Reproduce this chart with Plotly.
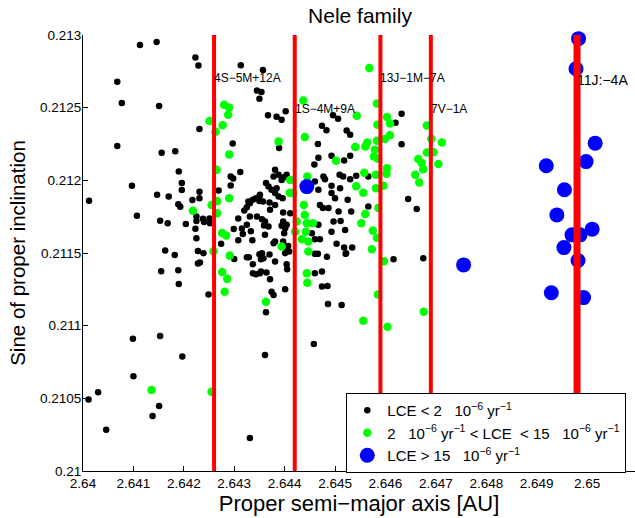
import plotly.graph_objects as go

# --- LCE < 2e-6 /yr members: proper a [AU], sin(i) ---
low_a = [
    2.64012, 2.64011, 2.64030, 2.64046, 2.64068, 2.64077, 2.64068, 2.64097, 2.64113, 2.64146,
    2.64151, 2.64156, 2.64183, 2.64190, 2.64196, 2.64196, 2.64147, 2.64170, 2.64189, 2.64193,
    2.64217, 2.64231, 2.64231, 2.64223, 2.64229, 2.64231, 2.64107, 2.64153, 2.64168, 2.64204,
    2.64225, 2.64225, 2.64238, 2.64240, 2.64252, 2.64251, 2.64223, 2.64225, 2.64274, 2.64299,
    2.64308, 2.64308, 2.64317, 2.64315, 2.64325, 2.64333, 2.64336, 2.64331, 2.64345, 2.64320,
    2.64325, 2.64331, 2.64337, 2.64328, 2.64350, 2.64350, 2.64163, 2.64182, 2.64228, 2.64239,
    2.64228, 2.64232, 2.64155, 2.64189, 2.64190, 2.64249, 2.64300, 2.64325, 2.64329, 2.64337,
    2.64337, 2.64343, 2.64350, 2.64269, 2.64297, 2.64293, 2.64298, 2.64293, 2.64312, 2.64313,
    2.64357, 2.64345, 2.64354, 2.64350, 2.64367, 2.64384, 2.64394, 2.64402, 2.64389, 2.64474,
    2.64483, 2.64496, 2.64506, 2.64466, 2.64523, 2.64530, 2.64467, 2.64493, 2.64503, 2.64518,
    2.64530, 2.64459, 2.64381, 2.64378, 2.64388, 2.64394, 2.64399, 2.64404, 2.64363, 2.64368,
    2.64374, 2.64384, 2.64381, 2.64351, 2.64343, 2.64357, 2.64370, 2.64388, 2.64396, 2.64381,
    2.64371, 2.64397, 2.64411, 2.64355, 2.64361, 2.64368, 2.64397, 2.64394, 2.64401, 2.64404,
    2.64361, 2.64378, 2.64397, 2.64407, 2.64409, 2.64401, 2.64351, 2.64364, 2.64371, 2.64358,
    2.64374, 2.64378, 2.64401, 2.64460, 2.64467, 2.64470, 2.64476, 2.64487, 2.64480, 2.64477,
    2.64493, 2.64500, 2.64493, 2.64510, 2.64516, 2.64509, 2.64530, 2.64542, 2.64525, 2.64507,
    2.64532, 2.64497, 2.64493, 2.64520, 2.64467, 2.64454, 2.64460, 2.64470, 2.64503, 2.64522,
    2.64460, 2.64466, 2.64484, 2.64566, 2.64645, 2.64662, 2.64616, 2.64675, 2.64460, 2.64474,
    2.64474, 2.64486, 2.64513, 2.64566, 2.64632, 2.64620, 2.64632, 2.64363, 2.64361, 2.64458,
    2.64485, 2.64518, 2.64534, 2.64521, 2.64353, 2.64353, 2.64355, 2.64370, 2.64381, 2.64403,
    2.64404, 2.64405, 2.64359, 2.64381, 2.64399, 2.64511, 2.64099, 2.64153, 2.64197, 2.64100,
    2.64331, 2.64138, 2.64151,
]
low_sini = [
    0.211859, 0.210492, 0.210541, 0.210284, 0.212678, 0.212532, 0.212236, 0.211962, 0.212931, 0.212952,
    0.212511, 0.212189, 0.212200, 0.212061, 0.211981, 0.211933, 0.211900, 0.211888, 0.211835, 0.211818,
    0.211864, 0.211921, 0.211877, 0.212846, 0.212790, 0.212353, 0.211756, 0.211722, 0.211704, 0.211699,
    0.211752, 0.211721, 0.211735, 0.211714, 0.211705, 0.211738, 0.211666, 0.211602, 0.211563, 0.211665,
    0.211737, 0.211588, 0.211630, 0.211668, 0.211694, 0.211650, 0.211588, 0.211751, 0.211751, 0.211792,
    0.211815, 0.211843, 0.211866, 0.211854, 0.211888, 0.211857, 0.211517, 0.211487, 0.211513, 0.211499,
    0.211428, 0.211434, 0.211375, 0.211382, 0.211286, 0.211214, 0.211458, 0.211470, 0.211471, 0.211423,
    0.211361, 0.211354, 0.211492, 0.211930, 0.212253, 0.212026, 0.212012, 0.211964, 0.212057, 0.212791,
    0.212759, 0.212618, 0.212607, 0.212561, 0.212448, 0.212437, 0.212417, 0.212475, 0.212222, 0.212375,
    0.212344, 0.212448, 0.212424, 0.212250, 0.212343, 0.212313, 0.212155, 0.212169, 0.212134, 0.212136,
    0.212169, 0.212109, 0.212072, 0.212026, 0.212038, 0.212003, 0.212022, 0.212038, 0.211981, 0.211957,
    0.211935, 0.211946, 0.211912, 0.211900, 0.211877, 0.211854, 0.211847, 0.211888, 0.211877, 0.211831,
    0.211797, 0.211778, 0.211774, 0.211733, 0.211716, 0.211682, 0.211716, 0.211687, 0.211671, 0.211694,
    0.211625, 0.211567, 0.211579, 0.211549, 0.211510, 0.211499, 0.211361, 0.211365, 0.211320, 0.211464,
    0.211234, 0.211211, 0.211251, 0.211992, 0.211935, 0.211831, 0.211809, 0.211809, 0.212008, 0.212026,
    0.211962, 0.211877, 0.211912, 0.211946, 0.212026, 0.212038, 0.212008, 0.212031, 0.211866, 0.211785,
    0.211785, 0.211716, 0.211647, 0.211659, 0.211694, 0.211636, 0.211595, 0.211595, 0.211563, 0.211499,
    0.211494, 0.211494, 0.211475, 0.211820, 0.211871, 0.211802, 0.211457, 0.211464, 0.211361, 0.211372,
    0.211269, 0.211149, 0.211143, 0.212026, 0.212458, 0.212396, 0.212249, 0.211092, 0.210798, 0.210874,
    0.211273, 0.211537, 0.211537, 0.211494, 0.211372, 0.211457, 0.211499, 0.211489, 0.211441, 0.211540,
    0.211423, 0.211388, 0.211689, 0.211579, 0.211636, 0.211721, 0.210910, 0.210929, 0.210787, 0.210652,
    0.210227, 0.210378, 0.210447,
]

# --- 2 < LCE < 15 members ---
mid_a = [
    2.64251, 2.64263, 2.64280, 2.64290, 2.64288, 2.64277, 2.64290, 2.64265, 2.64290, 2.64255,
    2.64218, 2.64266, 2.64266, 2.64276, 2.64284, 2.64259, 2.64291, 2.64276, 2.64286, 2.64281,
    2.64388, 2.64437, 2.64440, 2.64445, 2.64502, 2.64411, 2.64410, 2.64417, 2.64438, 2.64440,
    2.64444, 2.64456, 2.64442, 2.64421, 2.64434, 2.64447, 2.64447, 2.64394, 2.64444, 2.64445,
    2.64363, 2.64424, 2.64568, 2.64543, 2.64583, 2.64603, 2.64609, 2.64584, 2.64609, 2.64599,
    2.64583, 2.64564, 2.64560, 2.64540, 2.64579, 2.64577, 2.64585, 2.64603, 2.64602, 2.64581,
    2.64558, 2.64542, 2.64556, 2.64581, 2.64596, 2.64586, 2.64560, 2.64552, 2.64575, 2.64583,
    2.64573, 2.64597, 2.64585, 2.64676, 2.64682, 2.64691, 2.64712, 2.64695, 2.64682, 2.64665,
    2.64672, 2.64675, 2.64705, 2.64659, 2.64667, 2.64556, 2.64604, 2.64136, 2.64255,
]
mid_sini = [
    0.212408, 0.212334, 0.212520, 0.212501, 0.212451, 0.212379, 0.212177, 0.212072, 0.211876, 0.211831,
    0.211791, 0.211857, 0.211773, 0.211638, 0.211621, 0.211512, 0.211482, 0.211370, 0.211322, 0.211234,
    0.212267, 0.212549, 0.212298, 0.212026, 0.212134, 0.212003, 0.211914, 0.211912, 0.211831, 0.211762,
    0.211705, 0.211705, 0.211647, 0.211647, 0.211595, 0.211579, 0.211510, 0.211544, 0.211360, 0.211296,
    0.211165, 0.211716, 0.212773, 0.212444, 0.212529, 0.212435, 0.212391, 0.212382, 0.212310, 0.212284,
    0.212272, 0.212260, 0.212233, 0.212229, 0.212210, 0.212164, 0.212148, 0.212084, 0.212045, 0.212038,
    0.212052, 0.211960, 0.211914, 0.211946, 0.211962, 0.211809, 0.211769, 0.211704, 0.211654, 0.211605,
    0.211526, 0.211444, 0.211214, 0.211096, 0.212377, 0.212286, 0.212260, 0.212193, 0.212192, 0.212146,
    0.212119, 0.212077, 0.212112, 0.212038, 0.211985, 0.211034, 0.210993, 0.210557, 0.210545,
]

# --- LCE > 15 members ---
high_a = [
    2.64983, 2.64978, 2.65016, 2.64919, 2.64998, 2.64955, 2.64940, 2.65010,
    2.64970, 2.64986, 2.64954, 2.64982, 2.64755, 2.64929, 2.64993, 2.64444,
]
high_sini = [
    0.212975, 0.212768, 0.212256, 0.212100, 0.212129, 0.211935, 0.211762, 0.211664,
    0.211625, 0.211625, 0.211537, 0.211448, 0.211418, 0.211227, 0.211193, 0.211957,
]

# Mean-motion resonances crossing the family
res_a = [2.6426, 2.6442, 2.6459, 2.6469, 2.6498]
res_names = ["4S\u22125M+12A", "1S\u22124M+9A", "13J\u22121M\u22127A", "7V\u22121A", "11J:\u22124A"]
res_label_sini = [0.212706, 0.212492, 0.212706, 0.212492, 0.212692]
res_width = [4, 4, 4, 4, 7]
res_label_size = [12, 12, 12, 12, 14]

x_ticks = [2.64, 2.641, 2.642, 2.643, 2.644, 2.645, 2.646, 2.647, 2.648, 2.649, 2.65]
x_tick_text = ["2.64", "2.641", "2.642", "2.643", "2.644", "2.645", "2.646", "2.647", "2.648", "2.649", "2.65"]
y_ticks = [0.21, 0.2105, 0.211, 0.2115, 0.212, 0.2125, 0.213]
y_tick_text = ["0.21", "0.2105", "0.211", "0.2115", "0.212", "0.2125", "0.213"]

legend_names = [
    "LCE < 2   10<sup>\u22126</sup> yr<sup>\u22121</sup>",
    "2   10<sup>\u22126</sup> yr<sup>\u22121</sup> < LCE  < 15   10<sup>\u22126</sup> yr<sup>\u22121</sup>",
    "LCE > 15   10<sup>\u22126</sup> yr<sup>\u22121</sup>",
]

FONT = "Liberation Sans, Arial, Helvetica, sans-serif"

fig = go.Figure()

fig.add_trace(go.Scatter(x=low_a, y=low_sini, mode="markers", name=legend_names[0],
                         marker=dict(color="black", size=6.5), cliponaxis=False))
fig.add_trace(go.Scatter(x=mid_a, y=mid_sini, mode="markers", name=legend_names[1],
                         marker=dict(color="#00ff00", size=8.5), cliponaxis=False))
fig.add_trace(go.Scatter(x=high_a, y=high_sini, mode="markers", name=legend_names[2],
                         marker=dict(color="#0000ff", size=15), cliponaxis=False))

for a, w in zip(res_a, res_width):
    fig.add_trace(go.Scatter(x=[a, a], y=[y_ticks[0], y_ticks[-1]], mode="lines",
                             line=dict(color="#ff0000", width=w), showlegend=False,
                             hoverinfo="skip"))

for a, name, s, fs in zip(res_a, res_names, res_label_sini, res_label_size):
    fig.add_annotation(x=a, y=s, text=name, showarrow=False, xanchor="left",
                       yanchor="middle", xshift=-2,
                       font=dict(family=FONT, size=fs, color="black"))

fig.update_layout(
    width=635, height=518,
    margin=dict(l=83, r=0, t=35, b=47),
    paper_bgcolor="white", plot_bgcolor="white",
    font=dict(family=FONT, color="black"),
    title=dict(text="Nele family", x=0.5669, xanchor="center", y=0.970, yanchor="middle",
               font=dict(family=FONT, size=21, color="black")),
    showlegend=True,
    legend=dict(x=0.477, y=0.179, xanchor="left", yanchor="top",
                bgcolor="white", bordercolor="black", borderwidth=1,
                font=dict(family=FONT, size=15, color="black"),
                itemsizing="trace", tracegroupgap=0),
)

fig.update_xaxes(
    range=[2.64, 2.65095], showgrid=False, zeroline=False,
    showline=True, linecolor="black", linewidth=1, mirror=False,
    ticks="inside", ticklen=5, tickcolor="black",
    tickvals=x_ticks, ticktext=x_tick_text,
    tickfont=dict(family=FONT, size=13.5, color="black"),
    title=dict(text="Proper semi\u2212major axis [AU]", standoff=2,
               font=dict(family=FONT, size=22, color="black")),
)
fig.update_yaxes(
    range=[0.21, 0.213], showgrid=False, zeroline=False,
    showline=True, linecolor="black", linewidth=1, mirror=False,
    ticks="inside", ticklen=5, tickcolor="black",
    tickvals=y_ticks, ticktext=y_tick_text, ticklabelstandoff=-2,
    tickfont=dict(family=FONT, size=13.5, color="black"),
    title=dict(text="Sine of proper inclination", standoff=8,
               font=dict(family=FONT, size=20.5, color="black")),
)

fig.write_html("out.html")
